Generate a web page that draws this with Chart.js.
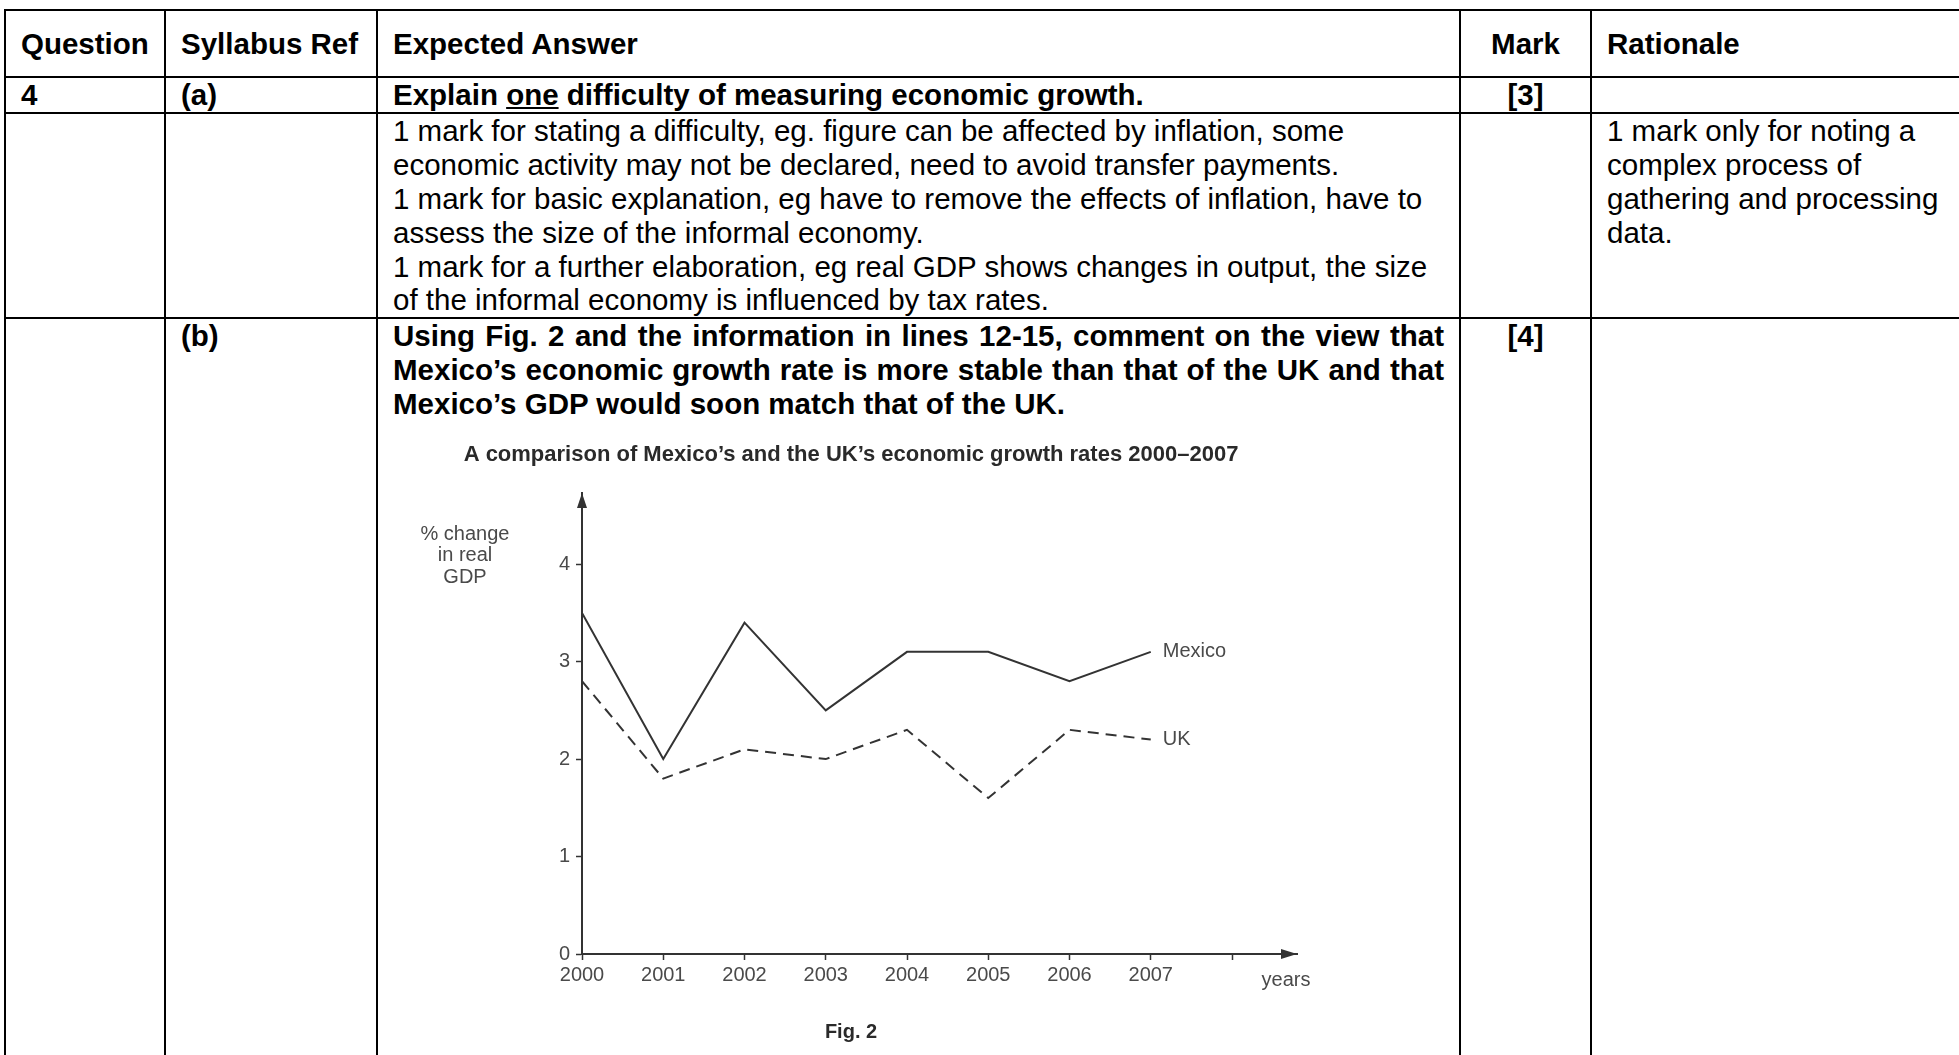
<!DOCTYPE html>
<html>
<head>
<meta charset="utf-8">
<script src="https://cdn.jsdelivr.net/npm/chart.js@4.4.1/dist/chart.umd.min.js"></script>
<style>
  html, body { margin: 0; padding: 0; background: #fff; overflow: hidden; }
  body { width: 1959px; height: 1055px; position: relative; font-family: "Liberation Sans", Arial, sans-serif; color: #000; }
  table { position: absolute; left: 4px; top: 9px; border-collapse: collapse; table-layout: fixed; width: 1962px; font-size: 29.5px; line-height: 33.9px; }
  td, th { border: 2px solid #000; padding: 0 15px; vertical-align: top; text-align: left; white-space: nowrap; overflow: hidden; }
  th { vertical-align: middle; font-weight: bold; }
  .b { font-weight: bold; }
  .c { text-align: center; }
  .just div { white-space: normal; text-align: justify; text-align-last: justify; }
  .just div.last { text-align-last: left; }
  #chartBox { position: absolute; left: 405px; top: 420px; width: 1012px; height: 635px; }
</style>
</head>
<body>
<table>
  <colgroup>
    <col style="width:160px"><col style="width:212px"><col style="width:1083px"><col style="width:131px"><col style="width:376px">
  </colgroup>
  <tr style="height:67px">
    <th>Question</th><th>Syllabus Ref</th><th>Expected Answer</th><th class="c">Mark</th><th>Rationale</th>
  </tr>
  <tr style="height:34px">
    <td class="b">4</td><td class="b">(a)</td>
    <td class="b">Explain <u>one</u> difficulty of measuring economic growth.</td>
    <td class="b c">[3]</td><td></td>
  </tr>
  <tr style="height:205px">
    <td></td><td></td>
    <td>1 mark for stating a difficulty, eg. figure can be affected by inflation, some<br>
economic activity may not be declared, need to avoid transfer payments.<br>
1 mark for basic explanation, eg have to remove the effects of inflation, have to<br>
assess the size of the informal economy.<br>
1 mark for a further elaboration, eg real GDP shows changes in output, the size<br>
of the informal economy is influenced by tax rates.</td>
    <td></td>
    <td>1 mark only for noting a<br>complex process of<br>gathering and processing<br>data.</td>
  </tr>
  <tr style="height:760px">
    <td></td><td class="b">(b)</td>
    <td class="b just">
      <div>Using Fig. 2 and the information in lines 12-15, comment on the view that</div>
      <div>Mexico’s economic growth rate is more stable than that of the UK and that</div>
      <div class="last">Mexico’s GDP would soon match that of the UK.</div>
    </td>
    <td class="b c">[4]</td><td></td>
  </tr>
</table>

<div id="chartBox"><canvas id="growthChart"></canvas></div>

<script>
// --- DADOS ---
const years = [2000, 2001, 2002, 2003, 2004, 2005, 2006, 2007];
const mexico = [3.5, 2.0, 3.4, 2.5, 3.1, 3.1, 2.8, 3.1];
const uk = [2.8, 1.8, 2.1, 2.0, 2.3, 1.6, 2.3, 2.2];
const yTicks = [0, 1, 2, 3, 4];
const yTitle = ['% change', 'in real', 'GDP'];
const seriesNames = ['Mexico', 'UK'];

const fontFamily = '"Liberation Sans", Arial, sans-serif';
const inkDark = '#333';
const inkText = '#4a4a4a';

// arrows, axis captions and end-of-line labels
const decorPlugin = {
    id: 'decor',
    afterDraw(chart) {
        const { ctx, chartArea, scales } = chart;
        const x = scales.x, y = scales.y;
        ctx.save();
        ctx.fillStyle = inkDark;

        // arrow on top of y axis
        ctx.beginPath();
        ctx.moveTo(chartArea.left, chartArea.top);
        ctx.lineTo(chartArea.left - 5, chartArea.top + 15);
        ctx.lineTo(chartArea.left + 5, chartArea.top + 15);
        ctx.closePath();
        ctx.fill();

        // arrow at end of x axis
        ctx.beginPath();
        ctx.moveTo(chartArea.right, chartArea.bottom);
        ctx.lineTo(chartArea.right - 16, chartArea.bottom - 5);
        ctx.lineTo(chartArea.right - 16, chartArea.bottom + 5);
        ctx.closePath();
        ctx.fill();

        ctx.fillStyle = inkText;
        ctx.font = '20px ' + fontFamily;
        ctx.textBaseline = 'middle';

        // y axis caption
        ctx.textAlign = 'center';
        yTitle.forEach((line, i) => {
            ctx.fillText(line, chartArea.left - 117, chartArea.top + 41 + i * 21.5);
        });

        // x axis caption
        ctx.fillText('years', chartArea.right - 11, chartArea.bottom + 26);

        // series names at the end of each line
        ctx.textAlign = 'left';
        const last = years.length - 1;
        [mexico, uk].forEach((serie, i) => {
            const px = x.getPixelForValue(years[last]);
            const py = y.getPixelForValue(serie[last]);
            ctx.fillText(seriesNames[i], px + 12, py);
        });
        ctx.restore();
    }
};

const pontos = serie => years.map((ano, i) => ({ x: ano, y: serie[i] }));

new Chart(document.getElementById('growthChart'), {
    type: 'line',
    data: {
        datasets: [{
            label: seriesNames[0],
            data: pontos(mexico),
            borderColor: inkDark,
            borderWidth: 2,
            pointRadius: 0,
            tension: 0
        }, {
            label: seriesNames[1],
            data: pontos(uk),
            borderColor: inkDark,
            borderWidth: 2,
            borderDash: [11, 7],
            pointRadius: 0,
            tension: 0
        }]
    },
    options: {
        responsive: true,
        maintainAspectRatio: false,
        animation: false,
        layout: { padding: { left: 0, right: 120, top: 0, bottom: 0 } },
        plugins: {
            legend: { display: false },
            tooltip: { enabled: false },
            title: {
                display: true,
                text: 'A comparison of Mexico’s and the UK’s economic growth rates 2000–2007',
                color: '#2a2a2a',
                font: { family: fontFamily, size: 22, weight: 'bold' },
                padding: { top: 21.8, bottom: 24.8 }
            },
            subtitle: {
                display: true,
                position: 'bottom',
                text: 'Fig. 2',
                color: '#2a2a2a',
                font: { family: fontFamily, size: 20, weight: 'bold' },
                padding: { top: 26, bottom: 11 }
            }
        },
        scales: {
            x: {
                type: 'linear',
                min: years[0],
                max: 2008.8,
                afterFit: s => { s.height = 40; },
                border: { display: true, color: inkDark, width: 2 },
                grid: { drawOnChartArea: false, drawTicks: true, tickLength: 6, color: inkDark, tickWidth: 1.5 },
                ticks: {
                    stepSize: 1,
                    includeBounds: false,
                    padding: 3,
                    color: inkText,
                    font: { family: fontFamily, size: 20 },
                    callback: v => years.includes(v) ? String(v) : ''
                }
            },
            y: {
                min: 0,
                max: 4.73,
                afterFit: s => { s.width = 177; },
                border: { display: true, color: inkDark, width: 2 },
                grid: { drawOnChartArea: false, drawTicks: true, tickLength: 6, color: inkDark, tickWidth: 1.5 },
                ticks: {
                    stepSize: 1,
                    includeBounds: false,
                    padding: 6,
                    color: inkText,
                    font: { family: fontFamily, size: 20 },
                    callback: v => yTicks.includes(v) ? String(v) : ''
                }
            }
        }
    },
    plugins: [decorPlugin]
});
</script>
</body>
</html>
